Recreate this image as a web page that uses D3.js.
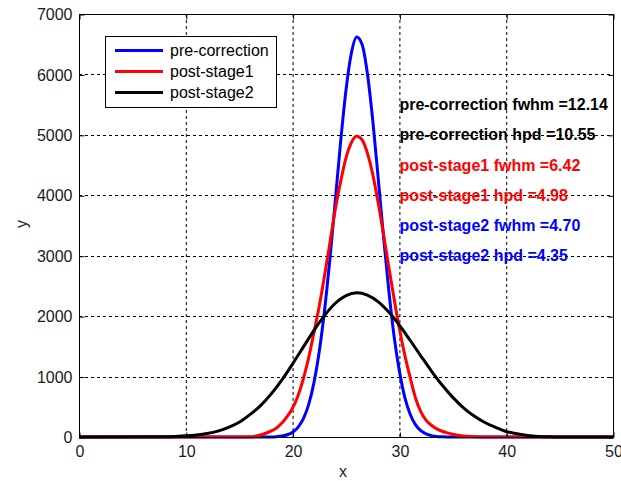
<!DOCTYPE html>
<html>
<head>
<meta charset="utf-8">
<script src="https://cdn.jsdelivr.net/npm/d3@7"></script>
<style>
  html, body { margin: 0; padding: 0; background: #fff; }
  svg { display: block; font-family: "Liberation Sans", Arial, sans-serif; }
</style>
</head>
<body>
<svg id="chart" width="621" height="481"></svg>
<script>
// ---- data ----
const xTicks = [0, 10, 20, 30, 40, 50];
const yTicks = [0, 1000, 2000, 3000, 4000, 5000, 6000, 7000];

const blueX = [0, 17, 18, 18.5, 19, 19.5, 20, 20.5, 21, 21.5, 22, 22.5, 23, 23.5, 24, 24.5, 25, 25.5, 26, 26.5, 27, 27.5, 28, 28.5, 29, 29.5, 30, 30.5, 31, 31.5, 32, 32.5, 33, 33.5, 34, 35, 50];
const blueY = [0, 0, 0, 5, 16, 37, 80, 160, 300, 535, 900, 1420, 2110, 2960, 3920, 4890, 5740, 6350, 6620, 6500, 6020, 5250, 4310, 3340, 2440, 1670, 1090, 660, 380, 205, 105, 50, 23, 10, 4, 0, 0];

const redX = [0, 15, 16, 16.5, 17, 17.5, 18, 18.5, 19, 19.5, 20, 20.5, 21, 21.5, 22, 22.5, 23, 23.5, 24, 24.5, 25, 25.5, 26, 26.5, 27, 27.5, 28, 28.5, 29, 29.5, 30, 30.5, 31, 31.5, 32, 32.5, 33, 33.5, 34, 34.5, 35, 35.5, 36, 37, 38, 50];
const redY = [0, 0, 0, 12, 32, 62, 100, 150, 230, 340, 480, 680, 960, 1310, 1730, 2170, 2680, 3220, 3770, 4230, 4620, 4870, 4975, 4920, 4700, 4350, 3890, 3370, 2820, 2290, 1790, 1360, 990, 650, 420, 275, 195, 135, 95, 68, 45, 28, 15, 5, 0, 0];

const blackX = [0, 8, 9, 10, 11, 12, 13, 14, 15, 16, 17, 18, 19, 20, 21, 22, 23, 24, 25, 26, 27, 28, 29, 30, 31, 32, 33, 34, 35, 36, 37, 38, 39, 40, 41, 42, 43, 44, 45, 50];
const blackY = [0, 5, 10, 19, 34, 59, 98, 158, 243, 370, 520, 713, 946, 1210, 1488, 1765, 2013, 2213, 2341, 2386, 2348, 2239, 2067, 1849, 1601, 1344, 1092, 860, 656, 484, 346, 240, 161, 90, 55, 27, 10, 3, 0, 0];

const seriesNames = ["pre-correction", "post-stage1", "post-stage2"];
const seriesColors = ["#0000ff", "#ff0000", "#000000"];

const noteTexts = ["pre-correction fwhm =12.14", "pre-correction hpd =10.55",
                   "post-stage1 fwhm =6.42", "post-stage1 hpd =4.98",
                   "post-stage2 fwhm =4.70", "post-stage2 hpd =4.35"];
const noteX = 30;
const noteY = [5500, 5000, 4500, 4000, 3500, 3000];
const noteColors = ["#000000", "#000000", "#ff0000", "#ff0000", "#0000ff", "#0000ff"];

// ---- layout ----
const L = 79, R = 613, T = 14, B = 437;
const svg = d3.select("#chart");
const x = d3.scaleLinear().domain([0, 50]).range([L, R]);
const y = d3.scaleLinear().domain([0, 7000]).range([B, T]);

// grid
const grid = svg.append("g");
grid.selectAll("line.gx").data(xTicks.slice(1, -1)).enter().append("line")
  .attr("x1", d => x(d) + 0.5).attr("x2", d => x(d) + 0.5)
  .attr("y1", T).attr("y2", B)
  .attr("stroke", "#000").attr("stroke-width", 1).attr("stroke-dasharray", "3,3");
grid.selectAll("line.gy").data(yTicks.slice(1, -1)).enter().append("line")
  .attr("x1", L).attr("x2", R)
  .attr("y1", d => Math.round(y(d)) + 0.5).attr("y2", d => Math.round(y(d)) + 0.5)
  .attr("stroke", "#000").attr("stroke-width", 1).attr("stroke-dasharray", "3,3");

// curves
const series = [
  {xs: blueX, ys: blueY, color: seriesColors[0]},
  {xs: redX, ys: redY, color: seriesColors[1]},
  {xs: blackX, ys: blackY, color: seriesColors[2]}
];
const line = d3.line().x(d => x(d[0])).y(d => y(d[1])).curve(d3.curveMonotoneX);
series.forEach(s => {
  svg.append("path")
    .datum(s.xs.map((v, i) => [v, s.ys[i]]))
    .attr("d", line)
    .attr("fill", "none")
    .attr("stroke", s.color)
    .attr("stroke-width", 3)
    .attr("stroke-linejoin", "round");
});

// axes box
svg.append("rect").attr("x", L + 0.5).attr("y", T + 0.5)
  .attr("width", R - L).attr("height", B - T)
  .attr("fill", "none").attr("stroke", "#000").attr("stroke-width", 1);

const fmt = d3.format("d");
svg.append("g").attr("transform", `translate(0.5,${B + 0.5})`)
  .call(d3.axisBottom(x).tickValues(xTicks).tickFormat(fmt).tickSize(-5).tickSizeOuter(0).tickPadding(8));
svg.append("g").attr("transform", `translate(${L + 0.5},0.5)`)
  .call(d3.axisLeft(y).tickValues(yTicks).tickFormat(fmt).tickSize(-5).tickSizeOuter(0).tickPadding(7));
svg.append("g").attr("transform", `translate(0.5,${T + 0.5})`)
  .call(d3.axisTop(x).tickValues(xTicks).tickFormat("").tickSize(-5).tickSizeOuter(0));
svg.append("g").attr("transform", `translate(${R + 0.5},0.5)`)
  .call(d3.axisRight(y).tickValues(yTicks).tickFormat("").tickSize(-5).tickSizeOuter(0));
svg.selectAll(".domain").remove();
svg.selectAll(".tick text").attr("font-size", 16).attr("fill", "#1a1a1a")
  .attr("font-family", "'Liberation Sans', Arial, sans-serif");

// axis labels
svg.append("text").attr("x", 343).attr("y", 471).attr("dy", "0.35em")
  .attr("text-anchor", "middle").attr("font-size", 16).attr("fill", "#1a1a1a").text("x");
svg.append("text").attr("transform", "translate(21,224) rotate(-90)").attr("dy", "0.35em")
  .attr("text-anchor", "middle").attr("font-size", 16).attr("fill", "#1a1a1a").text("y");

// legend
const lg = svg.append("g");
lg.append("rect").attr("x", 105.5).attr("y", 36.5).attr("width", 171).attr("height", 71)
  .attr("fill", "#fff").attr("stroke", "#000").attr("stroke-width", 1);
seriesNames.forEach((name, i) => {
  const ly = 50.5 + i * 21;
  lg.append("line").attr("x1", 115).attr("x2", 163).attr("y1", ly).attr("y2", ly)
    .attr("stroke", seriesColors[i]).attr("stroke-width", 3);
  lg.append("text").attr("x", 170).attr("y", ly).attr("dy", "0.35em")
    .attr("font-size", 16).attr("fill", "#000").text(name);
});

// annotations
noteTexts.forEach((t, i) => {
  svg.append("text").attr("x", x(noteX)).attr("y", y(noteY[i])).attr("dy", "0.35em")
    .attr("font-size", 16).attr("font-weight", "bold").attr("fill", noteColors[i]).text(t);
});
</script>
</body>
</html>
